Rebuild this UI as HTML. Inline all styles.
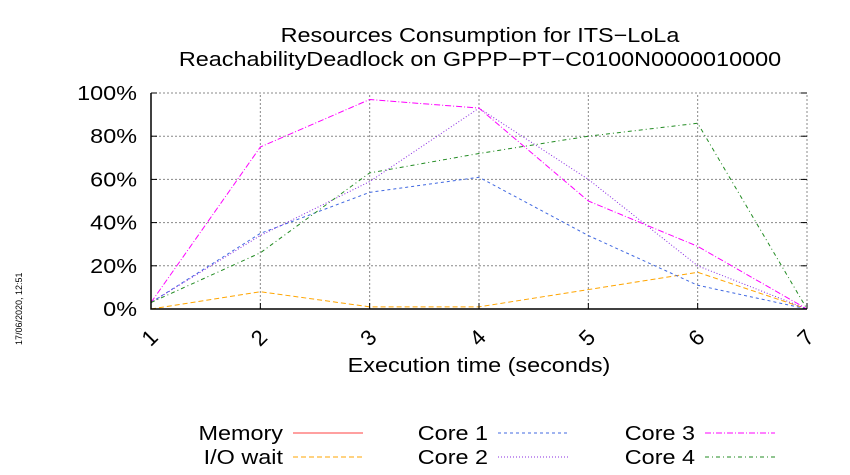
<!DOCTYPE html>
<html><head><meta charset="utf-8"><style>
body{margin:0;background:#fff;}
svg{display:block;font-family:"Liberation Sans",sans-serif;}
</style></head><body>
<svg id="chart" width="850" height="475" viewBox="0 0 850 475">
<text class="w" x="480" y="42" text-anchor="middle" font-size="20">Resources Consumption for ITS−LoLa</text>
<text class="w" x="480" y="66" text-anchor="middle" font-size="20">ReachabilityDeadlock on GPPP−PT−C0100N0000010000</text>
<text transform="translate(22,345) rotate(-90)" font-size="9">17/06/2020, 12:51</text>
<g id="grid"></g>
<g id="series"></g>
<g id="axes"></g>
<text class="w" x="479" y="372" text-anchor="middle" font-size="20">Execution time (seconds)</text>
<g id="legend"></g>
</svg>
<script>
const categories=[1,2,3,4,5,6,7];
const yTicks=[0,20,40,60,80,100];
const memory=[0,0,0,0,0,0,0];
const ioWait=[0,8,1,1,9,17,0];
const core1=[3,35,54,61,34,11,0];
const core2=[3,34,59,93,60,20,0];
const core3=[3,75,97,93,50,29,0];
const core4=[3,26,63,72,80,86,0];
const X0=151,X1=807,Y0=309,Y1=93;
const xs=v=>X0+(v-1)*(X1-X0)/6;
const ys=v=>Y0-v*(Y0-Y1)/100;
const NS="http://www.w3.org/2000/svg";
function mk(t,a,p){const e=document.createElementNS(NS,t);for(const k in a)e.setAttribute(k,a[k]);p.appendChild(e);return e;}
const grid=document.getElementById('grid'),axes=document.getElementById('axes'),ser=document.getElementById('series'),leg=document.getElementById('legend');
yTicks.forEach(t=>{
 const l=mk('line',{x1:X0,x2:X1,y1:ys(t),y2:ys(t),stroke:'#888','stroke-dasharray':'2,2','stroke-width':1},grid);
 
 
 const tx=mk('text',{x:X0-14,y:ys(t)+7,'text-anchor':'end','font-size':20,'class':'w'},axes);
 tx.textContent=t+'%';
 
 
 mk('line',{x1:X0,x2:X0+6,y1:ys(t),y2:ys(t),stroke:'#000'},axes);
 mk('line',{x1:X1,x2:X1-6,y1:ys(t),y2:ys(t),stroke:'#000'},axes);
});
categories.forEach(c=>{
 const l=mk('line',{x1:xs(c),x2:xs(c),y1:Y0,y2:Y1,stroke:'#888','stroke-dasharray':'2,2'},grid);
 
 
 mk('line',{x1:xs(c),x2:xs(c),y1:Y0,y2:Y0-6,stroke:'#000'},axes);
 const tx=mk('text',{x:0,y:0,'font-size':22,'text-anchor':'middle',transform:`translate(${xs(c)+4},${Y0+34}) rotate(-45)`},axes);
 tx.textContent=c;
 
 
});
const b=mk('path',{d:`M${X0},${Y1}V${Y0}H${X1}`,fill:'none',stroke:'#000','stroke-width':1.5},axes);


const defs=[
 ['Memory',memory,'#ff4040','none',283,433],
 ['I/O wait',ioWait,'#ffa500','5,3',283,457],
 ['Core 1',core1,'#4169e1','3,3',488,433],
 ['Core 2',core2,'#8a2be2','1,2',488,457],
 ['Core 3',core3,'#ff00ff','6,2,1,2',695,433],
 ['Core 4',core4,'#228b22','4,3,1,3',695,457]
];
defs.forEach(([name,data,col,dash,lx,ly])=>{
 const p=mk('polyline',{points:data.map((v,i)=>xs(categories[i])+','+ys(v)).join(' '),fill:'none',stroke:col,'stroke-width':1,'stroke-dasharray':dash},ser);
 
 
 const g=mk('g',{},leg);
 
 
 const t=mk('text',{x:lx,y:ly+7,'text-anchor':'end','font-size':20,'class':'w'},g);
 t.textContent=name;
 mk('line',{x1:lx+10,x2:lx+80,y1:ly,y2:ly,stroke:col,'stroke-dasharray':dash},g);
});
document.querySelectorAll('text.w').forEach(t=>{
 const w=t.getComputedTextLength();
 t.setAttribute('textLength',(w*1.17).toFixed(1));
 t.setAttribute('lengthAdjust','spacingAndGlyphs');
});
</script>
</body></html>
